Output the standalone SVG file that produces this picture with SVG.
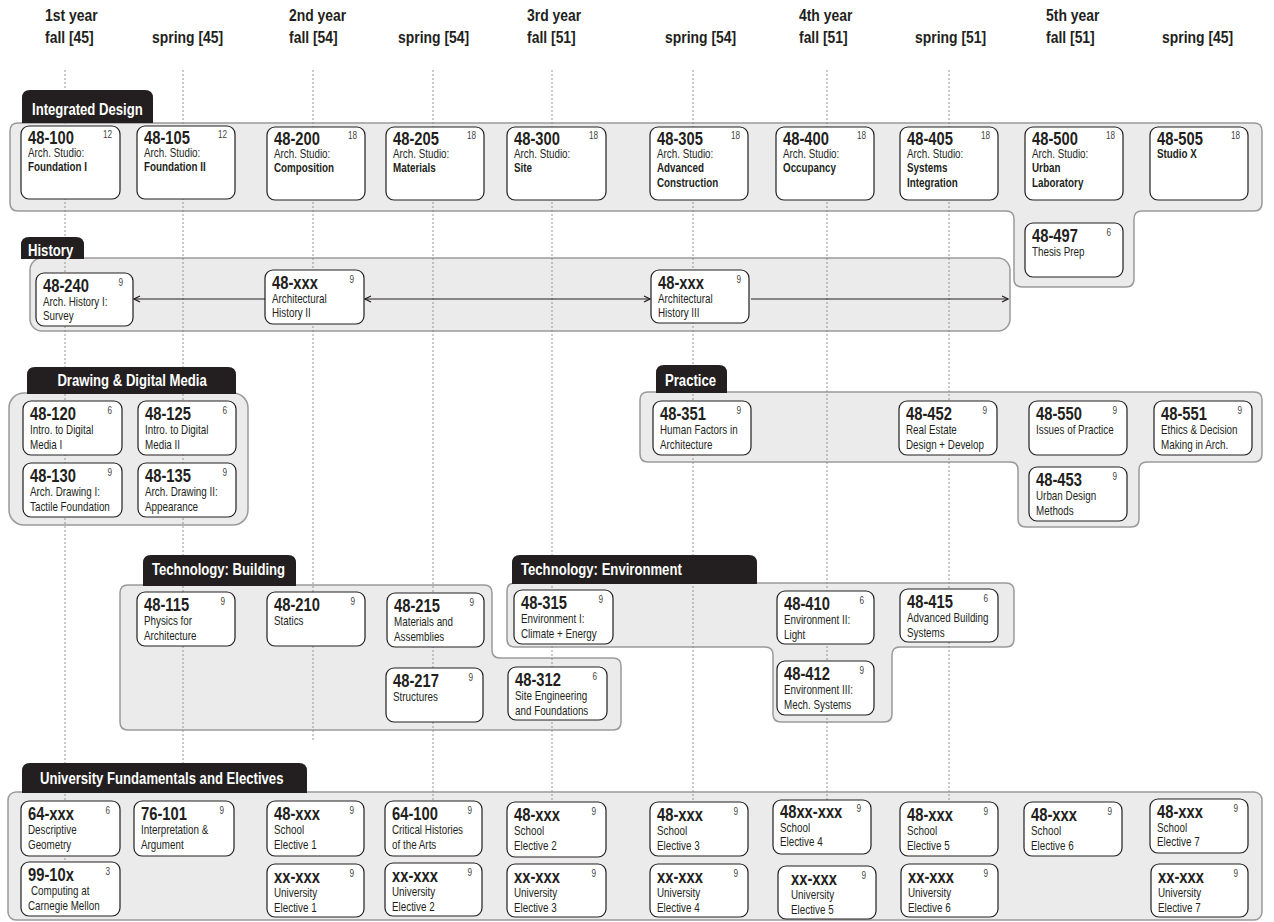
<svg xmlns="http://www.w3.org/2000/svg" width="1274" height="922" viewBox="0 0 1274 922">
<defs>
<style>
text{font-family:"Liberation Sans Narrow","Arial Narrow","Liberation Sans",sans-serif;fill:#231f20;transform-box:fill-box;transform-origin:0 50%;transform:scaleX(0.82)}
.hdr{font-size:17px;font-weight:bold}
.lt{font-size:16px;font-weight:bold;fill:#fff}
.mid{transform-origin:50% 50%}
.lbl{fill:#231f20}
.panel{fill:#ebebeb;stroke:#9a9a9a;stroke-width:1.5}
.box{fill:#fff;stroke:#231f20;stroke-width:1.2}
.code{font-size:18px;font-weight:bold}
.cr{font-size:10px;fill:#444;text-anchor:end;transform-origin:100% 50%}
.d{font-size:12px}
.db{font-size:12px;font-weight:bold}
.grid{stroke:#8a8a8a;stroke-width:0.9;stroke-dasharray:2 2;fill:none}
.con{stroke:#231f20;stroke-width:1.2;fill:none}
</style>
<marker id="ah" viewBox="0 0 8 8" refX="7" refY="4" markerWidth="8" markerHeight="8" orient="auto-start-reverse" markerUnits="userSpaceOnUse"><path d="M1,1 L7,4 L1,7" fill="none" stroke="#231f20" stroke-width="1.2"/></marker>
</defs>
<rect width="1274" height="922" fill="#fff"/>

<g id="header">
<text class="hdr" x="45" y="21">1st year</text><text class="hdr" x="45" y="43">fall [45]</text>
<text class="hdr" x="152" y="43">spring [45]</text>
<text class="hdr" x="289" y="21">2nd year</text><text class="hdr" x="289" y="43">fall [54]</text>
<text class="hdr" x="398" y="43">spring [54]</text>
<text class="hdr" x="527" y="21">3rd year</text><text class="hdr" x="527" y="43">fall [51]</text>
<text class="hdr" x="665" y="43">spring [54]</text>
<text class="hdr" x="799" y="21">4th year</text><text class="hdr" x="799" y="43">fall [51]</text>
<text class="hdr" x="915" y="43">spring [51]</text>
<text class="hdr" x="1046" y="21">5th year</text><text class="hdr" x="1046" y="43">fall [51]</text>
<text class="hdr" x="1162" y="43">spring [45]</text>
</g>

<g id="panels">
<path class="panel" d="M10,131 Q10,123 18,123 H1254 Q1262,123 1262,131 V203 Q1262,211 1254,211 H1142 Q1134,211 1134,219 V279 Q1134,287 1126,287 H1022 Q1014,287 1014,279 V219 Q1014,211 1006,211 H18 Q10,211 10,203 Z"/>
<rect class="panel" x="30" y="258" width="980" height="73" rx="12"/>
<rect class="panel" x="9" y="393" width="239" height="132" rx="15"/>
<path class="panel" d="M640,400 Q640,392 648,392 H1254 Q1262,392 1262,400 V454 Q1262,462 1254,462 H1147 Q1139,462 1139,470 V519 Q1139,527 1131,527 H1026 Q1018,527 1018,519 V470 Q1018,462 1010,462 H648 Q640,462 640,454 Z"/>
<path class="panel" d="M120,593 Q120,585 128,585 H484 Q492,585 492,593 V650 Q492,658 500,658 H613 Q621,658 621,666 V722 Q621,730 613,730 H128 Q120,730 120,722 Z"/>
<path class="panel" d="M507,591 Q507,583 515,583 H1006 Q1014,583 1014,591 V639 Q1014,647 1006,647 H900 Q892,647 892,655 V714 Q892,722 884,722 H781 Q773,722 773,714 V655 Q773,647 765,647 H515 Q507,647 507,639 Z"/>
<rect class="panel" x="8" y="792" width="1254" height="128" rx="8"/>
</g>

<g id="gridlines">
<path class="grid" d="M65,70 V862"/>
<path class="grid" d="M183,70 V790"/>
<path class="grid" d="M313,70 V742"/>
<path class="grid" d="M433,70 V808"/>
<path class="grid" d="M552,70 V808"/>
<path class="grid" d="M693,70 V808"/>
<path class="grid" d="M827,70 V808"/>
<path class="grid" d="M949,70 V808"/>
</g>

<g id="labels">
<g id="lbl-integrated"><path class="lbl" d="M22,123 V98 Q22,90 30,90 H145 Q153,90 153,98 V123 Z"/><text class="lt" x="32" y="115">Integrated Design</text></g>
<g id="lbl-history"><path class="lbl" d="M21,259 V245 Q21,237 29,237 H76 Q84,237 84,245 V259 Z"/><text class="lt" x="28" y="256">History</text></g>
<g id="lbl-ddm"><path class="lbl" d="M27,394 V375 Q27,367 35,367 H228 Q236,367 236,375 V394 Z"/><text class="lt mid" x="132" y="386" text-anchor="middle">Drawing &amp; Digital Media</text></g>
<g id="lbl-practice"><path class="lbl" d="M656,393 V373 Q656,365 664,365 H719 Q727,365 727,373 V393 Z"/><text class="lt" x="665" y="386">Practice</text></g>
<g id="lbl-techb"><path class="lbl" d="M143,586 V563 Q143,555 151,555 H288 Q296,555 296,563 V586 Z"/><text class="lt" x="152" y="575">Technology: Building</text></g>
<g id="lbl-teche"><path class="lbl" d="M512,584 V563 Q512,555 520,555 H749 Q757,555 757,563 V584 Z"/><text class="lt" x="521" y="575">Technology: Environment</text></g>
<g id="lbl-univ"><path class="lbl" d="M22,793 V771 Q22,763 30,763 H299 Q307,763 307,771 V793 Z"/><text class="lt" x="40" y="784">University Fundamentals and Electives</text></g>
</g>

<g id="connectors">
<path class="con" d="M265,299 H134" marker-end="url(#ah)"/>
<path class="con" d="M365,299 H650" marker-start="url(#ah)" marker-end="url(#ah)"/>
<path class="con" d="M751,299 H1008" marker-end="url(#ah)"/>
</g>

<g id="nodes">
<g id="n-48-100"><rect class="box" x="21" y="126" width="99" height="73" rx="8"/><text class="code" x="28" y="144">48-100</text><text class="cr" x="112" y="138">12</text><text class="d" x="28" y="157">Arch. Studio:</text><text class="db" x="28" y="171.5">Foundation I</text></g>
<g id="n-48-105"><rect class="box" x="137" y="126" width="98" height="73" rx="8"/><text class="code" x="144" y="144">48-105</text><text class="cr" x="227" y="138">12</text><text class="d" x="144" y="157">Arch. Studio:</text><text class="db" x="144" y="171.5">Foundation II</text></g>
<g id="n-48-200"><rect class="box" x="267" y="127" width="98" height="73" rx="8"/><text class="code" x="274" y="145">48-200</text><text class="cr" x="357" y="139">18</text><text class="d" x="274" y="158">Arch. Studio:</text><text class="db" x="274" y="172.5">Composition</text></g>
<g id="n-48-205"><rect class="box" x="386" y="127" width="98" height="73" rx="8"/><text class="code" x="393" y="145">48-205</text><text class="cr" x="476" y="139">18</text><text class="d" x="393" y="158">Arch. Studio:</text><text class="db" x="393" y="172.5">Materials</text></g>
<g id="n-48-300"><rect class="box" x="507" y="127" width="99" height="73" rx="8"/><text class="code" x="514" y="145">48-300</text><text class="cr" x="598" y="139">18</text><text class="d" x="514" y="158">Arch. Studio:</text><text class="db" x="514" y="172.5">Site</text></g>
<g id="n-48-305"><rect class="box" x="650" y="127" width="98" height="73" rx="8"/><text class="code" x="657" y="145">48-305</text><text class="cr" x="740" y="139">18</text><text class="d" x="657" y="158">Arch. Studio:</text><text class="db" x="657" y="172.5">Advanced</text><text class="db" x="657" y="187">Construction</text></g>
<g id="n-48-400"><rect class="box" x="776" y="127" width="98" height="73" rx="8"/><text class="code" x="783" y="145">48-400</text><text class="cr" x="866" y="139">18</text><text class="d" x="783" y="158">Arch. Studio:</text><text class="db" x="783" y="172.5">Occupancy</text></g>
<g id="n-48-405"><rect class="box" x="900" y="127" width="98" height="73" rx="8"/><text class="code" x="907" y="145">48-405</text><text class="cr" x="990" y="139">18</text><text class="d" x="907" y="158">Arch. Studio:</text><text class="db" x="907" y="172.5">Systems</text><text class="db" x="907" y="187">Integration</text></g>
<g id="n-48-500"><rect class="box" x="1025" y="127" width="98" height="73" rx="8"/><text class="code" x="1032" y="145">48-500</text><text class="cr" x="1115" y="139">18</text><text class="d" x="1032" y="158">Arch. Studio:</text><text class="db" x="1032" y="172.5">Urban</text><text class="db" x="1032" y="187">Laboratory</text></g>
<g id="n-48-505"><rect class="box" x="1150" y="127" width="98" height="73" rx="8"/><text class="code" x="1157" y="145">48-505</text><text class="cr" x="1240" y="139">18</text><text class="db" x="1157" y="158">Studio X</text></g>
<g id="n-48-497"><rect class="box" x="1025" y="223" width="98" height="54" rx="8"/><text class="code" x="1032" y="242">48-497</text><text class="cr" x="1111" y="236">6</text><text class="d" x="1032" y="256">Thesis Prep</text></g>

<g id="n-48-240"><rect class="box" x="36" y="273" width="97" height="53" rx="8"/><text class="code" x="43" y="292">48-240</text><text class="cr" x="123" y="286">9</text><text class="d" x="43" y="306">Arch. History I:</text><text class="d" x="43" y="320.5">Survey</text></g>
<g id="n-48-xxx-hist2"><rect class="box" x="265" y="270" width="99" height="54" rx="8"/><text class="code" x="272" y="289">48-xxx</text><text class="cr" x="354" y="283">9</text><text class="d" x="272" y="303">Architectural</text><text class="d" x="272" y="317.5">History II</text></g>
<g id="n-48-xxx-hist3"><rect class="box" x="651" y="270" width="98" height="53" rx="8"/><text class="code" x="658" y="289">48-xxx</text><text class="cr" x="741" y="283">9</text><text class="d" x="658" y="303">Architectural</text><text class="d" x="658" y="317.5">History III</text></g>

<g id="n-48-120"><rect class="box" x="23" y="401" width="99" height="54" rx="8"/><text class="code" x="30" y="420">48-120</text><text class="cr" x="112" y="414">6</text><text class="d" x="30" y="434">Intro. to Digital</text><text class="d" x="30" y="449">Media I</text></g>
<g id="n-48-125"><rect class="box" x="138" y="401" width="98" height="54" rx="8"/><text class="code" x="145" y="420">48-125</text><text class="cr" x="227" y="414">6</text><text class="d" x="145" y="434">Intro. to Digital</text><text class="d" x="145" y="449">Media II</text></g>
<g id="n-48-130"><rect class="box" x="23" y="463" width="99" height="54" rx="8"/><text class="code" x="30" y="482">48-130</text><text class="cr" x="112" y="476">9</text><text class="d" x="30" y="496">Arch. Drawing I:</text><text class="d" x="30" y="511">Tactile Foundation</text></g>
<g id="n-48-135"><rect class="box" x="138" y="463" width="98" height="54" rx="8"/><text class="code" x="145" y="482">48-135</text><text class="cr" x="227" y="476">9</text><text class="d" x="145" y="496">Arch. Drawing II:</text><text class="d" x="145" y="511">Appearance</text></g>

<g id="n-48-351"><rect class="box" x="653" y="401" width="98" height="54" rx="8"/><text class="code" x="660" y="420">48-351</text><text class="cr" x="741" y="414">9</text><text class="d" x="660" y="434">Human Factors in</text><text class="d" x="660" y="449">Architecture</text></g>
<g id="n-48-452"><rect class="box" x="899" y="401" width="98" height="54" rx="8"/><text class="code" x="906" y="420">48-452</text><text class="cr" x="987" y="414">9</text><text class="d" x="906" y="434">Real Estate</text><text class="d" x="906" y="449">Design + Develop</text></g>
<g id="n-48-550"><rect class="box" x="1029" y="401" width="98" height="54" rx="8"/><text class="code" x="1036" y="420">48-550</text><text class="cr" x="1117" y="414">9</text><text class="d" x="1036" y="434">Issues of Practice</text></g>
<g id="n-48-551"><rect class="box" x="1154" y="401" width="98" height="54" rx="8"/><text class="code" x="1161" y="420">48-551</text><text class="cr" x="1242" y="414">9</text><text class="d" x="1161" y="434">Ethics &amp; Decision</text><text class="d" x="1161" y="449">Making in Arch.</text></g>
<g id="n-48-453"><rect class="box" x="1029" y="467" width="98" height="54" rx="8"/><text class="code" x="1036" y="486">48-453</text><text class="cr" x="1117" y="480">9</text><text class="d" x="1036" y="500">Urban Design</text><text class="d" x="1036" y="515">Methods</text></g>

<g id="n-48-115"><rect class="box" x="137" y="592" width="98" height="54" rx="8"/><text class="code" x="144" y="611">48-115</text><text class="cr" x="225" y="605">9</text><text class="d" x="144" y="625">Physics for</text><text class="d" x="144" y="640">Architecture</text></g>
<g id="n-48-210"><rect class="box" x="267" y="592" width="98" height="54" rx="8"/><text class="code" x="274" y="611">48-210</text><text class="cr" x="355" y="605">9</text><text class="d" x="274" y="625">Statics</text></g>
<g id="n-48-215"><rect class="box" x="387" y="593" width="97" height="54" rx="8"/><text class="code" x="394" y="612">48-215</text><text class="cr" x="474" y="606">9</text><text class="d" x="394" y="626">Materials and</text><text class="d" x="394" y="641">Assemblies</text></g>
<g id="n-48-217"><rect class="box" x="386" y="668" width="97" height="54" rx="8"/><text class="code" x="393" y="687">48-217</text><text class="cr" x="473" y="681">9</text><text class="d" x="393" y="701">Structures</text></g>
<g id="n-48-312"><rect class="box" x="508" y="667" width="99" height="53" rx="8"/><text class="code" x="515" y="686">48-312</text><text class="cr" x="597" y="680">6</text><text class="d" x="515" y="700">Site Engineering</text><text class="d" x="515" y="715">and Foundations</text></g>

<g id="n-48-315"><rect class="box" x="514" y="590" width="99" height="54" rx="8"/><text class="code" x="521" y="609">48-315</text><text class="cr" x="603" y="603">9</text><text class="d" x="521" y="623">Environment I:</text><text class="d" x="521" y="638">Climate + Energy</text></g>
<g id="n-48-410"><rect class="box" x="777" y="591" width="97" height="53" rx="8"/><text class="code" x="784" y="610">48-410</text><text class="cr" x="864" y="604">6</text><text class="d" x="784" y="624">Environment II:</text><text class="d" x="784" y="639">Light</text></g>
<g id="n-48-415"><rect class="box" x="900" y="589" width="98" height="53" rx="8"/><text class="code" x="907" y="608">48-415</text><text class="cr" x="988" y="602">6</text><text class="d" x="907" y="622">Advanced Building</text><text class="d" x="907" y="637">Systems</text></g>
<g id="n-48-412"><rect class="box" x="777" y="661" width="97" height="54" rx="8"/><text class="code" x="784" y="680">48-412</text><text class="cr" x="864" y="674">9</text><text class="d" x="784" y="694">Environment III:</text><text class="d" x="784" y="709">Mech. Systems</text></g>

<g id="n-64-xxx"><rect class="box" x="21" y="801" width="99" height="55" rx="8"/><text class="code" x="28" y="820">64-xxx</text><text class="cr" x="110" y="814">6</text><text class="d" x="28" y="834">Descriptive</text><text class="d" x="28" y="849">Geometry</text></g>
<g id="n-99-10x"><rect class="box" x="21" y="862" width="99" height="54" rx="8"/><text class="code" x="28" y="881">99-10x</text><text class="cr" x="110" y="875">3</text><text class="d" x="31" y="895">Computing at</text><text class="d" x="28" y="910">Carnegie Mellon</text></g>
<g id="n-76-101"><rect class="box" x="134" y="801" width="100" height="55" rx="8"/><text class="code" x="141" y="820">76-101</text><text class="cr" x="224" y="814">9</text><text class="d" x="141" y="834">Interpretation &amp;</text><text class="d" x="141" y="849">Argument</text></g>
<g id="n-48-xxx-se1"><rect class="box" x="267" y="801" width="97" height="55" rx="8"/><text class="code" x="274" y="820">48-xxx</text><text class="cr" x="354" y="814">9</text><text class="d" x="274" y="834">School</text><text class="d" x="274" y="849">Elective 1</text></g>
<g id="n-xx-xxx-ue1"><rect class="box" x="267" y="864" width="97" height="53" rx="8"/><text class="code" x="274" y="883">xx-xxx</text><text class="cr" x="354" y="877">9</text><text class="d" x="274" y="897">University</text><text class="d" x="274" y="912">Elective 1</text></g>
<g id="n-64-100"><rect class="box" x="385" y="801" width="97" height="55" rx="8"/><text class="code" x="392" y="820">64-100</text><text class="cr" x="472" y="814">9</text><text class="d" x="392" y="834">Critical Histories</text><text class="d" x="392" y="849">of the Arts</text></g>
<g id="n-xx-xxx-ue2"><rect class="box" x="385" y="863" width="97" height="53" rx="8"/><text class="code" x="392" y="882">xx-xxx</text><text class="cr" x="472" y="876">9</text><text class="d" x="392" y="896">University</text><text class="d" x="392" y="911">Elective 2</text></g>
<g id="n-48-xxx-se2"><rect class="box" x="507" y="802" width="99" height="55" rx="8"/><text class="code" x="514" y="821">48-xxx</text><text class="cr" x="596" y="815">9</text><text class="d" x="514" y="835">School</text><text class="d" x="514" y="850">Elective 2</text></g>
<g id="n-xx-xxx-ue3"><rect class="box" x="507" y="864" width="99" height="53" rx="8"/><text class="code" x="514" y="883">xx-xxx</text><text class="cr" x="596" y="877">9</text><text class="d" x="514" y="897">University</text><text class="d" x="514" y="912">Elective 3</text></g>
<g id="n-48-xxx-se3"><rect class="box" x="650" y="802" width="98" height="54" rx="8"/><text class="code" x="657" y="821">48-xxx</text><text class="cr" x="738" y="815">9</text><text class="d" x="657" y="835">School</text><text class="d" x="657" y="850">Elective 3</text></g>
<g id="n-xx-xxx-ue4"><rect class="box" x="650" y="864" width="98" height="53" rx="8"/><text class="code" x="657" y="883">xx-xxx</text><text class="cr" x="738" y="877">9</text><text class="d" x="657" y="897">University</text><text class="d" x="657" y="912">Elective 4</text></g>
<g id="n-48xx-xxx-se4"><rect class="box" x="773" y="800" width="98" height="54" rx="8"/><text class="code" x="780" y="818">48xx-xxx</text><text class="cr" x="861" y="812">9</text><text class="d" x="780" y="832">School</text><text class="d" x="780" y="846">Elective 4</text></g>
<g id="n-xx-xxx-ue5"><rect class="box" x="778" y="866" width="98" height="53" rx="8"/><text class="code" x="791" y="885">xx-xxx</text><text class="cr" x="866" y="879">9</text><text class="d" x="791" y="899">University</text><text class="d" x="791" y="914">Elective 5</text></g>
<g id="n-48-xxx-se5"><rect class="box" x="900" y="802" width="98" height="54" rx="8"/><text class="code" x="907" y="821">48-xxx</text><text class="cr" x="988" y="815">9</text><text class="d" x="907" y="835">School</text><text class="d" x="907" y="850">Elective 5</text></g>
<g id="n-xx-xxx-ue6"><rect class="box" x="901" y="864" width="97" height="53" rx="8"/><text class="code" x="908" y="883">xx-xxx</text><text class="cr" x="988" y="877">9</text><text class="d" x="908" y="897">University</text><text class="d" x="908" y="912">Elective 6</text></g>
<g id="n-48-xxx-se6"><rect class="box" x="1024" y="802" width="98" height="54" rx="8"/><text class="code" x="1031" y="821">48-xxx</text><text class="cr" x="1112" y="815">9</text><text class="d" x="1031" y="835">School</text><text class="d" x="1031" y="850">Elective 6</text></g>
<g id="n-48-xxx-se7"><rect class="box" x="1150" y="799" width="98" height="54" rx="8"/><text class="code" x="1157" y="818">48-xxx</text><text class="cr" x="1238" y="812">9</text><text class="d" x="1157" y="832">School</text><text class="d" x="1157" y="846">Elective 7</text></g>
<g id="n-xx-xxx-ue7"><rect class="box" x="1151" y="864" width="97" height="53" rx="8"/><text class="code" x="1158" y="883">xx-xxx</text><text class="cr" x="1238" y="877">9</text><text class="d" x="1158" y="897">University</text><text class="d" x="1158" y="912">Elective 7</text></g>
</g>
</svg>
